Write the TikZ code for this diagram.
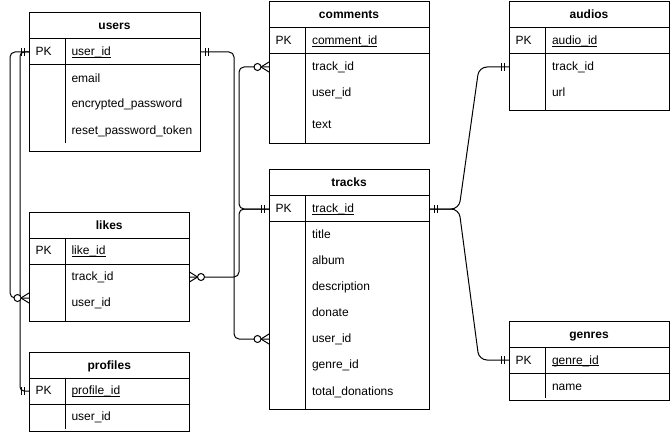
\documentclass[tikz,border=0pt]{standalone}
\usepackage{fontspec}
\setmainfont{Liberation Sans}
\usetikzlibrary{calc}
\newcommand\pkline[1]{\setbox0\hbox{#1}\rlap{\vrule height -1.3pt depth 2.1pt width \wd0}\box0}
\newcommand\mandone[2]{\begin{scope}[shift={(#1)},xscale=#2]\draw[mk] (5,-4) -- (5,4) (8,-4) -- (8,4);\end{scope}}
\newcommand\zeromany[2]{\begin{scope}[shift={(#1)},xscale=#2]\draw[mk] (0,-5) -- (8,0) -- (0,5);\draw[mk,fill=white] (11.5,0) circle[radius=3.5pt];\end{scope}}
\begin{document}
\begin{tikzpicture}[x=1pt,y=-1pt,line width=1pt,
  font=\fontsize{12}{14}\selectfont,
  tbl/.style={draw,line width=1pt,inner sep=0pt,outer sep=0pt,anchor=north west},
  rowpt/.style={draw=none,inner sep=0pt,outer sep=0pt,minimum height=10pt},
  ttl/.style={font=\fontsize{12}{14}\selectfont\bfseries,anchor=base,inner sep=0pt},
  txt/.style={anchor=base west,inner sep=0pt},
  conn/.style={line width=1pt,rounded corners=5pt},
  mk/.style={line width=1pt}]
\useasboundingbox (0,0) rectangle (671,433);

% ---------- users ----------
\node[tbl,minimum width=171pt,minimum height=138.5pt] (users) at (29,13) {};
\draw (29,39) -- (200,39) (29,65) -- (200,65) (65,39) -- (65,143);
\node[ttl] (users-t) at (114.5,30) {users};
\node[txt] (users-pk) at (35,56) {PK};
\node[txt] (users-f1) at (71,56) {\pkline{user\_id}};
\node[txt] (users-f2) at (71,82.5) {email};
\node[txt] (users-f3) at (71,108) {encrypted\_password};
\node[txt] (users-f4) at (71,134) {reset\_password\_token};
\node[rowpt,minimum width=171pt] (users-uid) at (114.5,52) {};

% ---------- comments ----------
\node[tbl,minimum width=160pt,minimum height=141.5pt] (comments) at (269,2) {};
\draw (269,28) -- (429,28) (269,54) -- (429,54) (305.5,28) -- (305.5,143.5);
\node[ttl] (comments-t) at (349,19) {comments};
\node[txt] (comments-pk) at (275,45) {PK};
\node[txt] (comments-f1) at (311.5,45) {\pkline{comment\_id}};
\node[txt] (comments-f2) at (311.5,70.5) {track\_id};
\node[txt] (comments-f3) at (311.5,96.5) {user\_id};
\node[txt] (comments-f4) at (311.5,128.5) {text};
\node[rowpt,minimum width=160pt] (comments-tid) at (349,67) {};

% ---------- audios ----------
\node[tbl,minimum width=160pt,minimum height=109pt] (audios) at (509,2) {};
\draw (509,28) -- (669,28) (509,54) -- (669,54) (545.5,28) -- (545.5,111);
\node[ttl] (audios-t) at (589,19) {audios};
\node[txt] (audios-pk) at (515,45) {PK};
\node[txt] (audios-f1) at (551.5,45) {\pkline{audio\_id}};
\node[txt] (audios-f2) at (551.5,70.5) {track\_id};
\node[txt] (audios-f3) at (551.5,96.5) {url};
\node[rowpt,minimum width=160pt] (audios-tid) at (589,67) {};

% ---------- tracks ----------
\node[tbl,minimum width=160pt,minimum height=240pt] (tracks) at (269,169) {};
\draw (269,195) -- (429,195) (269,221) -- (429,221) (305.5,195) -- (305.5,409);
\node[ttl] (tracks-t) at (349,186.5) {tracks};
\node[txt] (tracks-pk) at (275,212.5) {PK};
\node[txt] (tracks-f1) at (311.5,212.5) {\pkline{track\_id}};
\node[txt] (tracks-f2) at (311.5,238) {title};
\node[txt] (tracks-f3) at (311.5,264) {album};
\node[txt] (tracks-f4) at (311.5,290) {description};
\node[txt] (tracks-f5) at (311.5,316) {donate};
\node[txt] (tracks-f6) at (311.5,342) {user\_id};
\node[txt] (tracks-f7) at (311.5,368) {genre\_id};
\node[txt] (tracks-f8) at (311.5,395) {total\_donations};
\node[rowpt,minimum width=160pt] (tracks-tid) at (349,209) {};
\node[rowpt,minimum width=160pt] (tracks-uid) at (349,339) {};

% ---------- likes ----------
\node[tbl,minimum width=160.5pt,minimum height=109pt] (likes) at (29,212) {};
\draw (29,238) -- (189.5,238) (29,264) -- (189.5,264) (65,238) -- (65,321);
\node[ttl] (likes-t) at (109.25,229) {likes};
\node[txt] (likes-pk) at (35,254.5) {PK};
\node[txt] (likes-f1) at (71,254.5) {\pkline{like\_id}};
\node[txt] (likes-f2) at (71,280.5) {track\_id};
\node[txt] (likes-f3) at (71,306) {user\_id};
\node[rowpt,minimum width=160.5pt] (likes-tid) at (109.25,277) {};
\node[rowpt,minimum width=160.5pt] (likes-uid) at (109.25,298) {};

% ---------- profiles ----------
\node[tbl,minimum width=160.5pt,minimum height=79pt] (profiles) at (29,352) {};
\draw (29,378) -- (189.5,378) (29,404) -- (189.5,404) (65,378) -- (65,429);
\node[ttl] (profiles-t) at (109.25,369) {profiles};
\node[txt] (profiles-pk0) at (35,394.5) {PK};
\node[txt] (profiles-f1) at (71,394.5) {\pkline{profile\_id}};
\node[txt] (profiles-f2) at (71,420.5) {user\_id};
\node[rowpt,minimum width=160.5pt] (profiles-pk) at (109.25,391) {};

% ---------- genres ----------
\node[tbl,minimum width=160pt,minimum height=79pt] (genres) at (509,321.5) {};
\draw (509,347.5) -- (669,347.5) (509,373.5) -- (669,373.5) (545.5,347.5) -- (545.5,398);
\node[ttl] (genres-t) at (589,338.5) {genres};
\node[txt] (genres-pk0) at (515,364) {PK};
\node[txt] (genres-f1) at (551.5,364) {\pkline{genre\_id}};
\node[txt] (genres-f2) at (551.5,390) {name};
\node[rowpt,minimum width=160pt] (genres-pk) at (589,360) {};

% ---------- connectors ----------
\draw[conn] (users-uid.east) -- ++(34,0) |- (tracks-uid.west);
\draw[conn] (tracks-tid.west) -- ++(-30,0) |- (comments-tid.west);
\draw[conn] (tracks-tid.west) -- ++(-30,0) |- (likes-tid.east);
\draw[conn] (users-uid.west) -- ++(-19,0) |- (likes-uid.west);
\draw[conn,rounded corners=4pt] (users-uid.west) -- ++(-9,0) |- (profiles-pk.west);
\draw[conn,rounded corners=8pt] (tracks-tid.east) -- ++(30,0) -- ($(audios-tid.west)+(-30,0)$) -- (audios-tid.west);
\draw[conn,rounded corners=8pt] (tracks-tid.east) -- ++(30,0) -- ($(genres-pk.west)+(-30,0)$) -- (genres-pk.west);

% ---------- markers ----------
\mandone{users-uid.east}{1}
\mandone{users-uid.west}{-1}
\zeromany{tracks-uid.west}{-1}
\mandone{tracks-tid.west}{-1}
\zeromany{comments-tid.west}{-1}
\zeromany{likes-tid.east}{1}
\zeromany{likes-uid.west}{-1}
\mandone{profiles-pk.west}{-1}
\mandone{tracks-tid.east}{1}
\mandone{audios-tid.west}{-1}
\mandone{genres-pk.west}{-1}
\end{tikzpicture}
\end{document}
